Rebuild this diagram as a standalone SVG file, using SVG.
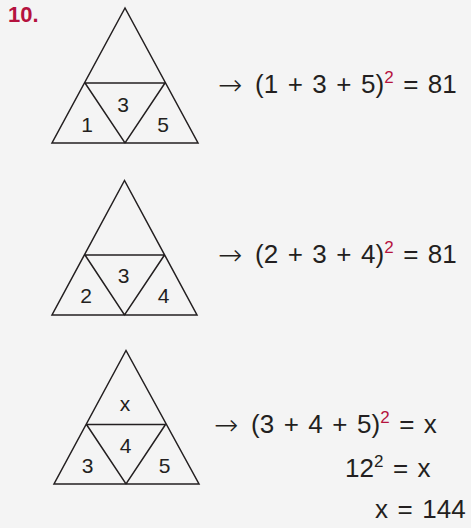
<svg xmlns="http://www.w3.org/2000/svg" width="471" height="528" viewBox="0 0 471 528">
<style>
.tri{fill:none;stroke:#231f20;stroke-width:1.5;stroke-linejoin:miter}
.lbl{font-family:"Liberation Sans",Arial,sans-serif;font-size:21px;fill:#231f20;text-anchor:middle}
.eq{font-family:"Liberation Sans",Arial,sans-serif;font-size:26px;fill:#231f20;word-spacing:2.3px}
.arr{font-family:"DejaVu Sans",sans-serif;font-size:29px;font-weight:200;fill:#231f20}
.sup{font-size:17px;fill:#b5123e}
.supk{font-size:17px}
.title{font-family:"Liberation Sans",Arial,sans-serif;font-size:22px;font-weight:bold;fill:#b5123e}
</style>
<rect width="471" height="528" fill="#f4f4f4"/>
<text class="title" x="8" y="22">10.</text>
<g id="triangle1">
<path class="tri" d="M125,8 L52,143 L198,143 Z M85,83 L165,83 M85,83 L125,143 L165,83"/>
<text class="lbl" x="87" y="132">1</text>
<text class="lbl" x="123" y="112">3</text>
<text class="lbl" x="163" y="132">5</text>
</g>
<g id="triangle2">
<path class="tri" d="M124.5,180.5 L52,315 L197,315 Z M85,255 L164.5,255 M85,255 L124.5,315 L164.5,255"/>
<text class="lbl" x="86" y="303">2</text>
<text class="lbl" x="123.5" y="283">3</text>
<text class="lbl" x="163.5" y="303">4</text>
</g>
<g id="triangle3">
<path class="tri" d="M126,350.5 L54,484 L199,484 Z M86.5,424.5 L165.5,424.5 M86.5,424.5 L126,484 L165.5,424.5"/>
<text class="lbl" x="125" y="410.5">x</text>
<text class="lbl" x="125.5" y="452.5">4</text>
<text class="lbl" x="87.5" y="472.5">3</text>
<text class="lbl" x="164.5" y="472.5">5</text>
</g>
<g id="eq1">
<text class="arr" x="218" y="95">→</text>
<text class="eq" x="255" y="93">(1 + 3 + 5)<tspan class="sup" dy="-10">2</tspan><tspan dy="10"> = 81</tspan></text>
</g>
<g id="eq2">
<text class="arr" x="218" y="265">→</text>
<text class="eq" x="255" y="263">(2 + 3 + 4)<tspan class="sup" dy="-10">2</tspan><tspan dy="10"> = 81</tspan></text>
</g>
<g id="eq3">
<text class="arr" x="214" y="435">→</text>
<text class="eq" x="251" y="433">(3 + 4 + 5)<tspan class="sup" dy="-10">2</tspan><tspan dy="10"> = x</tspan></text>
<text class="eq" x="345" y="477">12<tspan class="supk" dy="-10">2</tspan><tspan dy="10"> = x</tspan></text>
<text class="eq" x="375" y="518">x = 144</text>
</g>
</svg>
